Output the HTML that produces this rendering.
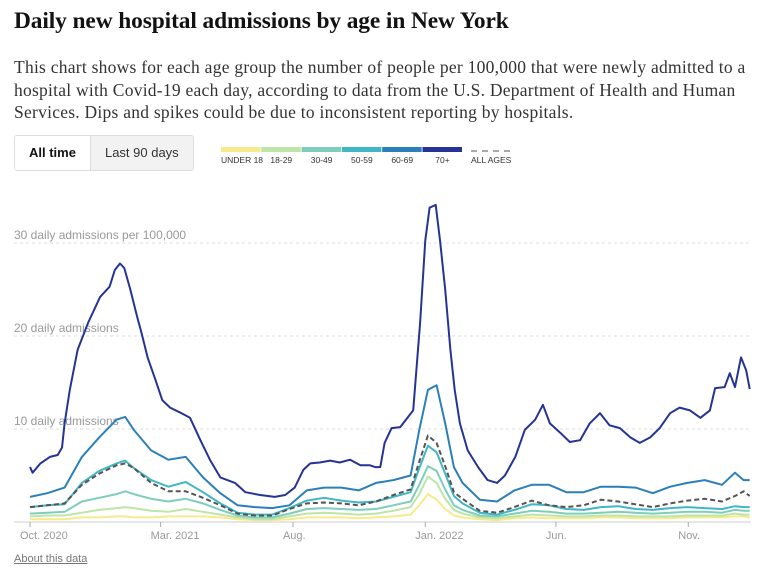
<!DOCTYPE html>
<html><head><meta charset="utf-8"><style>
body{margin:0;width:771px;height:572px;background:#fff;overflow:hidden;font-family:"Liberation Sans",sans-serif;position:relative}
h1{position:absolute;left:14px;top:8px;margin:0;font:bold 23.4px "Liberation Serif",serif;color:#121212;letter-spacing:-0.1px}
p.desc{position:absolute;left:14px;top:56px;width:748px;margin:0;font:17.5px/22.5px "Liberation Serif",serif;letter-spacing:0.25px;color:#333}
.btns{position:absolute;left:14px;top:135px;height:34px;display:flex;border:1px solid #ddd;border-radius:3px;overflow:hidden}
.btn{font-size:13px;padding:0 14px;line-height:34px;color:#333}
.btn.on{font-weight:bold;color:#121212;background:#fff}
.btn.off{background:#f2f2f2;border-left:1px solid #ddd}
.about{position:absolute;left:14px;top:553px;font-size:11px;color:#777;text-decoration:underline}
</style></head><body>
<h1>Daily new hospital admissions by age in New York</h1>
<p class="desc">This chart shows for each age group the number of people per 100,000 that were newly admitted to a hospital with Covid-19 each day, according to data from the U.S. Department of Health and Human Services. Dips and spikes could be due to inconsistent reporting by hospitals.</p>
<div class="btns">
<div class="btn on">All time</div>
<div class="btn off">Last 90 days</div>
</div>
<div class="about">About this data</div>
<svg id="chart" width="771" height="572" style="position:absolute;left:0;top:0"></svg>
<script>
const ageGroups=["UNDER 18","18-29","30-49","50-59","60-69","70+"];
const groupColors=["#f7ea8c","#bde5a8","#7fcdbb","#41b6c4","#2c7fb8","#253494"];
const yTicks=[10,20,30];
const yTickLabels=["10 daily admissions","20 daily admissions","30 daily admissions per 100,000"];
const xTickDays=[0,151,304,457,608,761];
const xTickLabels=["Oct. 2020","Mar. 2021","Aug.","Jan. 2022","Jun.","Nov."];
const days70=[0,3,12,23,32,37,40,46,55,67,81,92,98,104,109,116,124,129,136,145,153,162,173,185,197,208,220,237,249,266,283,295,306,316,324,335,347,358,370,382,393,399,405,410,418,428,443,451,457,462,469,474,480,486,491,497,506,518,529,540,549,561,572,584,593,601,613,624,636,647,659,670,682,694,705,717,728,740,751,763,775,786,792,803,809,815,822,828,832];
const vals70=[5.9,5.3,6.3,7.0,7.2,8.0,10.6,14.2,18.5,21.4,24.2,25.3,27.1,27.8,27.3,25,22,20.3,17.7,15.3,13.1,12.3,11.8,11.2,8.8,6.7,4.8,4.2,3.2,2.9,2.7,2.9,3.7,5.6,6.3,6.4,6.6,6.4,6.7,6.1,6.1,5.9,5.9,8.5,10.1,10.2,12.0,21.4,30.3,33.8,34.1,30.3,25,18.5,14.2,10.6,7.7,5.9,4.5,4.2,5,7.0,9.9,11,12.6,10.6,9.6,8.6,8.8,10.6,11.7,10.4,10.1,9.1,8.5,9.1,10.1,11.7,12.3,12,11.2,12.0,14.4,14.5,16.0,14.5,17.7,16.3,14.3];
const daysLow=[0,20,40,60,80,100,110,120,140,160,180,200,220,240,260,280,300,320,340,360,380,400,420,440,450,460,470,480,490,500,520,540,560,580,600,620,640,660,680,700,720,740,760,780,800,815,825,832];
const vals6069=[2.7,3.1,3.7,7.0,9.1,11.0,11.3,9.9,7.7,6.7,7.0,4.8,3.1,1.8,1.6,1.5,1.8,3.4,3.7,3.7,3.4,4.2,4.5,5.0,9.9,14.2,14.7,10.6,5.9,4.2,2.4,2.2,3.4,4.0,4.0,3.2,3.2,3.8,3.8,3.7,3.1,3.8,4.2,4.5,4.0,5.3,4.5,4.5];
const vals5059=[1.6,1.8,1.9,4.2,5.5,6.3,6.6,5.8,4.5,3.8,4.3,3.2,2.0,1.0,0.8,0.8,1.5,2.3,2.6,2.3,2.1,2.2,2.7,3.2,5.8,8.2,7.5,5.2,2.8,2.0,1.0,0.8,1.3,1.9,1.8,1.4,1.3,1.6,1.7,1.4,1.3,1.5,1.6,1.5,1.4,1.7,1.6,1.6];
const vals3049=[0.9,1.0,1.1,2.2,2.6,3.0,3.3,3.0,2.5,2.2,2.5,2.0,1.3,0.7,0.5,0.5,0.9,1.4,1.5,1.4,1.3,1.4,1.8,2.2,4.0,6.0,5.5,3.5,1.8,1.3,0.7,0.6,0.9,1.2,1.1,0.9,0.9,1.0,1.1,1.0,0.9,1.0,1.1,1.1,1.0,1.3,1.2,1.2];
const vals1829=[0.6,0.7,0.7,1.0,1.3,1.5,1.6,1.5,1.2,1.1,1.4,1.1,0.8,0.5,0.3,0.3,0.6,0.9,1.0,0.9,0.8,0.9,1.2,1.6,3.0,4.9,4.2,2.5,1.3,0.9,0.5,0.4,0.6,0.8,0.7,0.6,0.6,0.7,0.7,0.6,0.6,0.6,0.7,0.7,0.7,0.9,0.8,0.8];
const valsU18=[0.3,0.3,0.3,0.5,0.5,0.6,0.6,0.5,0.5,0.6,0.6,0.6,0.5,0.3,0.2,0.2,0.3,0.5,0.5,0.5,0.4,0.5,0.6,0.8,1.8,3.0,2.4,1.4,0.7,0.5,0.3,0.2,0.4,0.5,0.4,0.4,0.4,0.5,0.5,0.4,0.4,0.4,0.5,0.5,0.5,0.6,0.6,0.5];
const valsAll=[1.6,1.8,2.0,4.0,5.2,6.1,6.3,5.8,4.2,3.3,3.3,2.6,1.8,0.9,0.7,0.7,1.4,2.0,2.1,2.0,1.8,2.2,2.9,3.5,6.5,9.3,8.5,6.0,3.2,2.5,1.2,1.0,1.6,2.3,1.8,1.6,1.8,2.4,2.2,1.9,1.6,2.0,2.3,2.5,2.2,2.8,3.3,2.8];

const NS="http://www.w3.org/2000/svg";
const svg=document.getElementById('chart');
const x=d=>30+d*0.865;
const y=v=>522-v*9.3;
function mk(t,a){const e=document.createElementNS(NS,t);for(const k in a)e.setAttribute(k,a[k]);svg.appendChild(e);return e;}
yTicks.forEach((v,i)=>{
  const g=mk('line',{x1:14,x2:751,y1:y(v),y2:y(v),stroke:'#ddd','stroke-dasharray':'3,3'});
  
  
  const t=mk('text',{x:14,y:y(v)-4,'font-size':12,fill:'#999','font-family':'Liberation Sans, sans-serif'});
  t.textContent=yTickLabels[i];
  
  
});
const ax=mk('line',{x1:14,x2:751,y1:522,y2:522,stroke:'#ccc'});


xTickDays.forEach((d,i)=>{
  const tk=mk('line',{x1:x(d),x2:x(d),y1:522,y2:527,stroke:'#aaa'});
  
  
  const t=mk('text',{x:x(d)-10,y:539,'font-size':11,fill:'#999','font-family':'Liberation Sans, sans-serif'});
  t.textContent=xTickLabels[i];
  
  
});
function line(ds,vs,color,name,dash){
  const p=ds.map((d,i)=>(i?'L':'M')+x(d).toFixed(1)+','+y(vs[i]).toFixed(1)).join('');
  const e=mk('path',{d:p,fill:'none',stroke:color,'stroke-width':2,'stroke-linejoin':'round'});
  if(dash)e.setAttribute('stroke-dasharray','5,3');
  
  
}
line(daysLow,valsU18,groupColors[0],'line-under-18');
line(daysLow,vals1829,groupColors[1],'line-18-29');
line(daysLow,vals3049,groupColors[2],'line-30-49');
line(daysLow,vals5059,groupColors[3],'line-50-59');
line(daysLow,valsAll,'#555','line-all-ages',true);
line(daysLow,vals6069,groupColors[4],'line-60-69');
line(days70,vals70,groupColors[5],'line-70-plus');
ageGroups.forEach((g,i)=>{
  const r=mk('rect',{x:221+i*40.3,y:147,width:39.5,height:5,fill:groupColors[i]});
  
  
  const t=mk('text',{x:221+i*40.3+(i===0?0:20),y:163,'font-size':8.5,fill:'#333','text-anchor':i===0?'start':'middle','font-family':'Liberation Sans, sans-serif'});
  t.textContent=g;
  
  
});
const ld=mk('line',{x1:471,x2:514,y1:151,y2:151,stroke:'#555','stroke-dasharray':'6,5'});


const lt=mk('text',{x:471,y:163,'font-size':8.5,fill:'#333','font-family':'Liberation Sans, sans-serif'});
lt.textContent='ALL AGES';


</script>
</body></html>
